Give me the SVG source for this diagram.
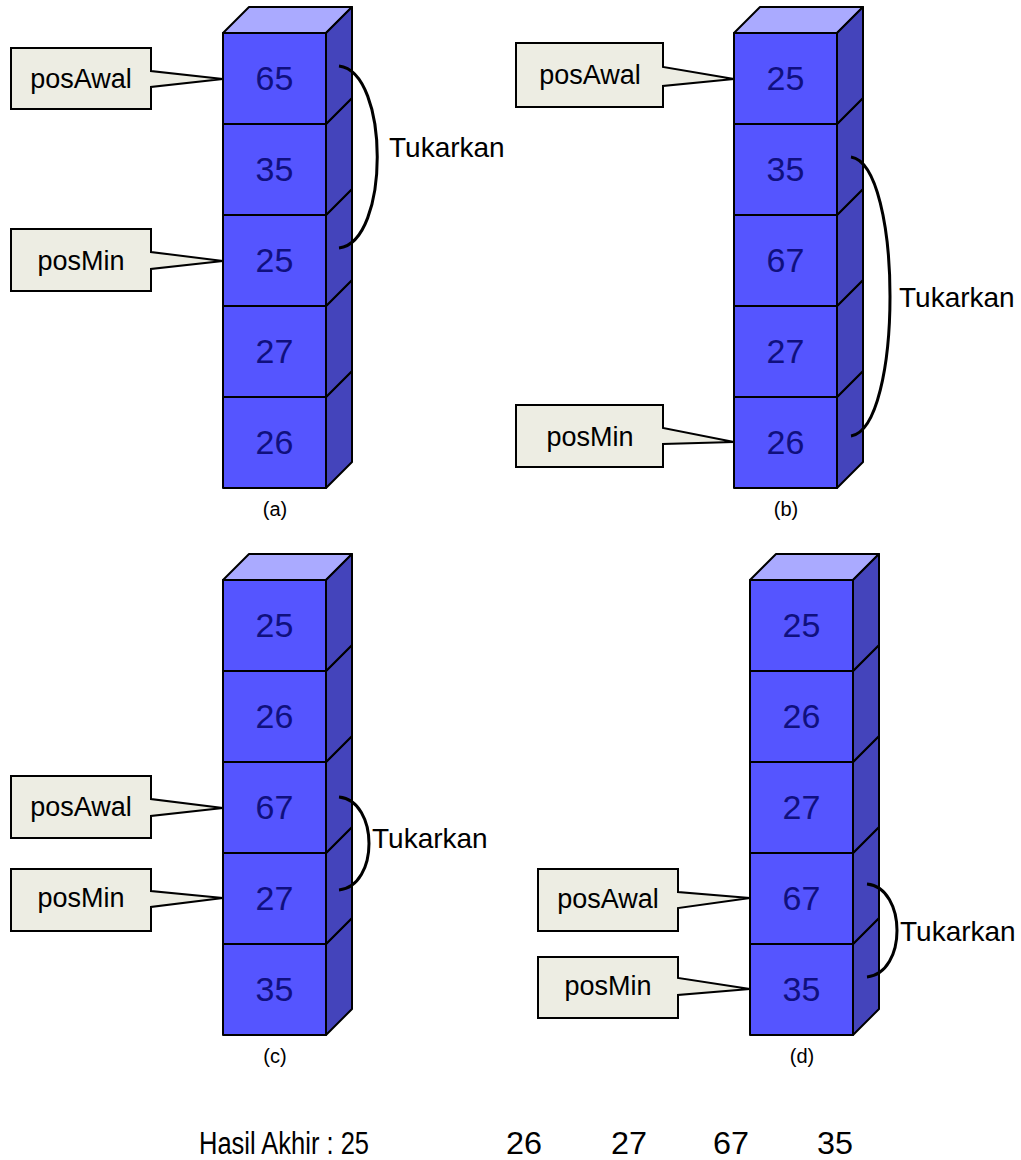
<svg xmlns="http://www.w3.org/2000/svg" width="1021" height="1160" viewBox="0 0 1021 1160">
<style>
.front{fill:#5555FF;stroke:#000;stroke-width:2;stroke-linejoin:round}
.top{fill:#AAAAFF;stroke:#000;stroke-width:2;stroke-linejoin:round}
.side{fill:#4444BB;stroke:#000;stroke-width:2;stroke-linejoin:round}
.num{font-family:"Liberation Sans",Arial,sans-serif;font-size:34px;fill:#10107E;text-anchor:middle}
.call{fill:#EDEDE3;stroke:#000;stroke-width:2;stroke-linejoin:miter}
.lbl{font-family:"Liberation Sans",Arial,sans-serif;font-size:27px;fill:#000;text-anchor:middle}
.tuk{font-family:"Liberation Sans",Arial,sans-serif;font-size:28px;fill:#000}
.cap{font-family:"Liberation Sans",Arial,sans-serif;font-size:20px;fill:#000;text-anchor:middle}
.brace{fill:none;stroke:#000;stroke-width:3;stroke-linecap:butt}
.res{font-family:"Liberation Sans",Arial,sans-serif;font-size:31px;fill:#000}
</style>
<defs>
<g id="cube">
<polygon class="top" points="0,0 26,-26 129,-26 103,0"/>
<polygon class="side" points="103,0 129,-26 129,65 103,91"/>
<rect class="front" x="0" y="0" width="103" height="91"/>
</g>
</defs>

<!-- Stack (a) -->
<g id="stack-a">
<g id="a5" transform="translate(223,397)"><use href="#cube"/><text class="num" x="51.5" y="57">26</text></g>
<g id="a4" transform="translate(223,306)"><use href="#cube"/><text class="num" x="51.5" y="57">27</text></g>
<g id="a3" transform="translate(223,215)"><use href="#cube"/><text class="num" x="51.5" y="57">25</text></g>
<g id="a2" transform="translate(223,124)"><use href="#cube"/><text class="num" x="51.5" y="57">35</text></g>
<g id="a1" transform="translate(223,33)"><use href="#cube"/><text class="num" x="51.5" y="57">65</text></g>
<text class="cap" x="275" y="516">(a)</text>
</g>

<!-- Stack (b) -->
<g id="stack-b">
<g id="b5" transform="translate(734,397)"><use href="#cube"/><text class="num" x="51.5" y="57">26</text></g>
<g id="b4" transform="translate(734,306)"><use href="#cube"/><text class="num" x="51.5" y="57">27</text></g>
<g id="b3" transform="translate(734,215)"><use href="#cube"/><text class="num" x="51.5" y="57">67</text></g>
<g id="b2" transform="translate(734,124)"><use href="#cube"/><text class="num" x="51.5" y="57">35</text></g>
<g id="b1" transform="translate(734,33)"><use href="#cube"/><text class="num" x="51.5" y="57">25</text></g>
<text class="cap" x="786" y="516">(b)</text>
</g>

<!-- Stack (c) -->
<g id="stack-c">
<g id="c5" transform="translate(223,944)"><use href="#cube"/><text class="num" x="51.5" y="57">35</text></g>
<g id="c4" transform="translate(223,853)"><use href="#cube"/><text class="num" x="51.5" y="57">27</text></g>
<g id="c3" transform="translate(223,762)"><use href="#cube"/><text class="num" x="51.5" y="57">67</text></g>
<g id="c2" transform="translate(223,671)"><use href="#cube"/><text class="num" x="51.5" y="57">26</text></g>
<g id="c1" transform="translate(223,580)"><use href="#cube"/><text class="num" x="51.5" y="57">25</text></g>
<text class="cap" x="275" y="1063">(c)</text>
</g>

<!-- Stack (d) -->
<g id="stack-d">
<g id="d5" transform="translate(750,944)"><use href="#cube"/><text class="num" x="51.5" y="57">35</text></g>
<g id="d4" transform="translate(750,853)"><use href="#cube"/><text class="num" x="51.5" y="57">67</text></g>
<g id="d3" transform="translate(750,762)"><use href="#cube"/><text class="num" x="51.5" y="57">27</text></g>
<g id="d2" transform="translate(750,671)"><use href="#cube"/><text class="num" x="51.5" y="57">26</text></g>
<g id="d1" transform="translate(750,580)"><use href="#cube"/><text class="num" x="51.5" y="57">25</text></g>
<text class="cap" x="802" y="1063">(d)</text>
</g>

<!-- Callouts -->
<g id="a-posAwal"><path class="call" d="M11 48 H151 V71 L223 79 L151 87 V109 H11 Z"/><text class="lbl" x="81" y="88">posAwal</text></g>
<g id="a-posMin"><path class="call" d="M11 229 H151 V252 L223 261 L151 269 V291 H11 Z"/><text class="lbl" x="81" y="270">posMin</text></g>
<g id="b-posAwal"><path class="call" d="M516 43 H663 V67 L734 79 L663 86 V107 H516 Z"/><text class="lbl" x="590" y="84">posAwal</text></g>
<g id="b-posMin"><path class="call" d="M516 405 H663 V428 L734 442 L663 444 V467 H516 Z"/><text class="lbl" x="590" y="446">posMin</text></g>
<g id="c-posAwal"><path class="call" d="M11 776 H151 V799 L223 808 L151 816 V838 H11 Z"/><text class="lbl" x="81" y="816">posAwal</text></g>
<g id="c-posMin"><path class="call" d="M11 869 H151 V891 L223 898 L151 907 V931 H11 Z"/><text class="lbl" x="81" y="907">posMin</text></g>
<g id="d-posAwal"><path class="call" d="M538 869 H678 V892 L750 898 L678 908 V931 H538 Z"/><text class="lbl" x="608" y="908">posAwal</text></g>
<g id="d-posMin"><path class="call" d="M538 957 H678 V978 L750 989 L678 995 V1018 H538 Z"/><text class="lbl" x="608" y="995">posMin</text></g>

<!-- Connectors: swap braces -->
<g id="connectors">
<path class="brace" d="M339 66 C390 72, 390 242, 339 248"/>
<path class="brace" d="M851 157 C903 165, 903 428, 851 436"/>
<path class="brace" d="M339 797 C379 801, 379 886, 339 890"/>
<path class="brace" d="M867 884 C907 888, 907 973, 867 977"/>
</g>
<text class="tuk" x="389" y="157">Tukarkan</text>
<text class="tuk" x="899" y="307">Tukarkan</text>
<text class="tuk" x="372" y="848">Tukarkan</text>
<text class="tuk" x="900" y="941">Tukarkan</text>

<!-- Result -->
<g id="result">
<text class="res" x="199" y="1154" textLength="170" lengthAdjust="spacingAndGlyphs">Hasil Akhir : 25</text>
<text class="res" x="506" y="1154" textLength="36" lengthAdjust="spacingAndGlyphs">26</text>
<text class="res" x="611" y="1154" textLength="36" lengthAdjust="spacingAndGlyphs">27</text>
<text class="res" x="713" y="1154" textLength="36" lengthAdjust="spacingAndGlyphs">67</text>
<text class="res" x="817" y="1154" textLength="36" lengthAdjust="spacingAndGlyphs">35</text>
</g>
</svg>
